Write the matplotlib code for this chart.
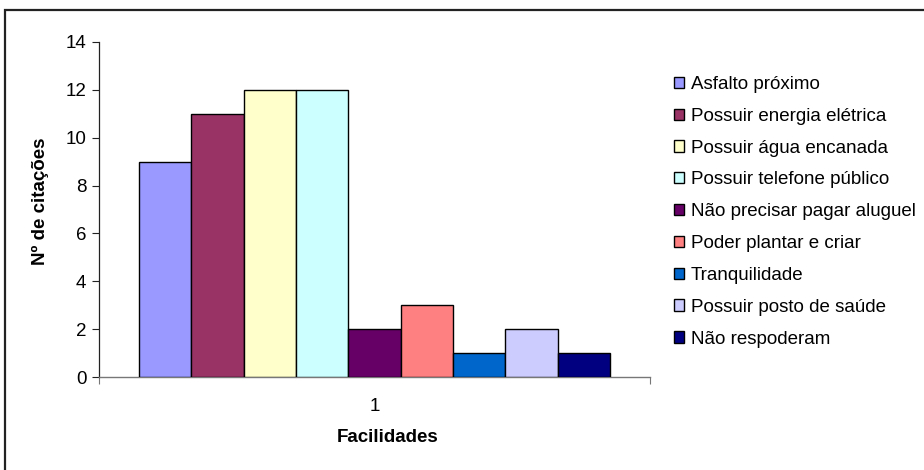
import matplotlib.pyplot as plt
from matplotlib.patches import Rectangle

# Citations per facility, one bar each, all in category "1"
labels = [
    "Asfalto próximo",
    "Possuir energia elétrica",
    "Possuir água encanada",
    "Possuir telefone público",
    "Não precisar pagar aluguel",
    "Poder plantar e criar",
    "Tranquilidade",
    "Possuir posto de saúde",
    "Não respoderam",
]
values = [9, 11, 12, 12, 2, 3, 1, 2, 1]
colors = ["#9999FF", "#993366", "#FFFFCC", "#CCFFFF", "#660066",
          "#FF8080", "#0066CC", "#CCCCFF", "#000080"]
category = ["1"]
y_ticks = [0, 2, 4, 6, 8, 10, 12, 14]

plt.rcParams["font.family"] = ["Liberation Sans", "DejaVu Sans"]
FS = 13.5

fig = plt.figure(figsize=(9.24, 4.70), dpi=100)
ax = fig.add_axes([99 / 924, 1 - 377 / 470, (650 - 99) / 924, (377 - 42) / 470])

# outer chart frame
fig.patches.append(Rectangle((5 / 924, -0.05), 1.2, 1 - 10 / 470 + 0.05,
                             transform=fig.transFigure, fill=False,
                             edgecolor="#222222", lw=1.6))

group = 471 / 551
w = group / len(values)
start = 1 - group / 2
for i, (lab, v, c) in enumerate(zip(labels, values, colors)):
    ax.bar(start + i * w, v, width=w, align="edge", color=c,
           edgecolor="black", linewidth=1.0, label=lab, zorder=3)

ax.set_xlim(0.5, 1.5)
ax.set_ylim(0, 14)
ax.set_yticks(y_ticks)
ax.tick_params(axis="y", direction="out", length=5, width=0.8,
               labelsize=FS, pad=4, colors="#222222", labelcolor="black")
ax.set_xticks([1])
ax.set_xticklabels(category)
ax.set_xticks([0.5, 1.5], minor=True)
ax.tick_params(axis="x", which="major", length=0, labelsize=FS, pad=15)
ax.tick_params(axis="x", which="minor", direction="out", length=5,
               width=0.8, colors="#777777")

for s in ["top", "right"]:
    ax.spines[s].set_visible(False)
ax.spines["left"].set_color("#222222")
ax.spines["bottom"].set_color("#777777")
ax.spines["left"].set_linewidth(0.9)
ax.spines["bottom"].set_linewidth(1.0)

ax.set_ylabel("Nº de citações", fontsize=FS, fontweight="bold")
ax.yaxis.set_label_coords(-(99 - 40) / 551, (377 - 201) / 335)
ax.yaxis.label.set_va("center")
ax.set_xlabel("Facilidades", fontsize=FS, fontweight="bold")
ax.xaxis.set_label_coords((388 - 99) / 551, -(437 - 377) / 335)
ax.xaxis.label.set_va("center")

ax.legend(loc="upper left", bbox_to_anchor=(674 / 924, 1 - 76 / 470),
          bbox_transform=fig.transFigure, frameon=False, fontsize=FS,
          handlelength=0.55, handleheight=0.55, handletextpad=0.35,
          labelspacing=0.79, borderaxespad=0, borderpad=0)

fig.savefig("out.png", dpi=100)
